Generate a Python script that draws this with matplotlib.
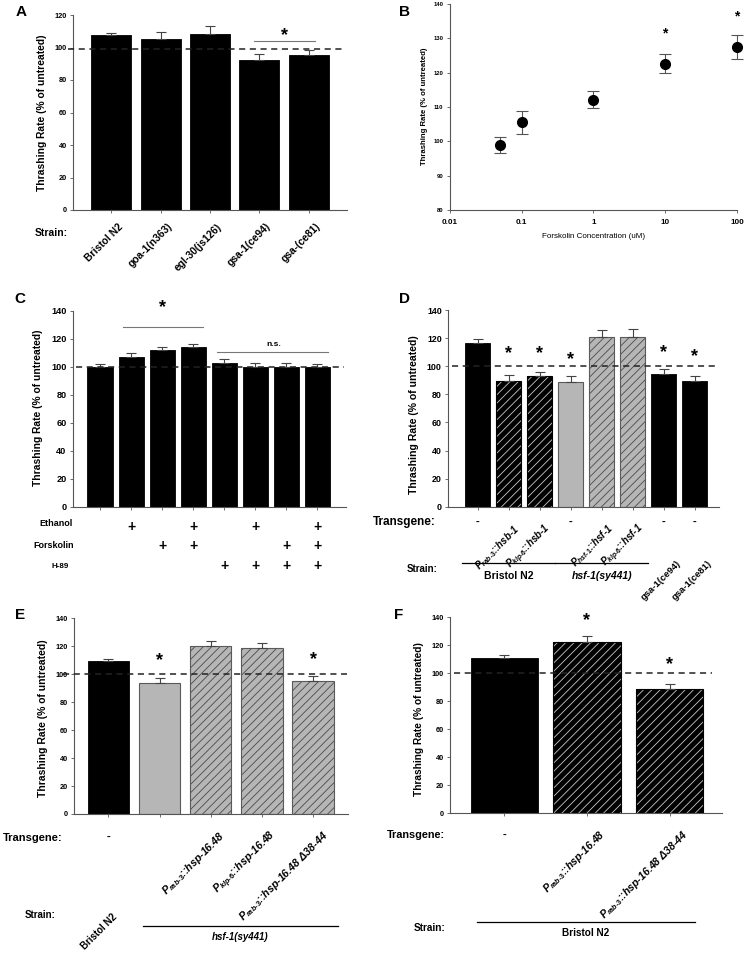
import matplotlib
matplotlib.use('Agg')
import matplotlib.pyplot as plt
import numpy as np
from matplotlib.transforms import blended_transform_factory

plt.rcParams['font.family'] = ['Liberation Sans', 'DejaVu Sans']
plt.rcParams['font.weight'] = 'bold'
plt.rcParams['mathtext.fontset'] = 'custom'
plt.rcParams['mathtext.it'] = 'Liberation Sans:italic:bold'
plt.rcParams['mathtext.rm'] = 'Liberation Sans:bold'
plt.rcParams['mathtext.bf'] = 'Liberation Sans:bold'
plt.rcParams['hatch.linewidth'] = 0.6

# ---- data ----
a_strains = ['Bristol N2', 'goa-1(n363)', 'egl-30(js126)', 'gsa-1(ce94)', 'gsa-(ce81)']
a_rate = [107.7, 105.3, 108.5, 92.6, 95.2]
a_err = [1.3, 4.1, 4.5, 3.7, 3.1]

b_conc = [0.05, 0.1, 1, 10, 100]
b_rate = [99.0, 105.5, 112.1, 122.6, 127.6]
b_err = [2.3, 3.3, 2.5, 2.7, 3.5]
b_ticks = ['0.01', '0.1', '1', '10', '100']

c_rate = [100, 106.9, 112.1, 114.3, 102.9, 100, 100, 100]
c_err = [1.9, 2.6, 1.9, 2.1, 2.6, 2.4, 2.4, 1.7]
c_ethanol = [0, 1, 0, 1, 0, 1, 0, 1]
c_forskolin = [0, 0, 1, 1, 0, 0, 1, 1]
c_h89 = [0, 0, 0, 0, 1, 1, 1, 1]

d_transgene = ['-', r'$P_{rab‐3}$::hsb-1', r'$P_{klp‐6}$::hsb-1', '-',
               r'$P_{hsf‐1}$::hsf-1', r'$P_{klp‐6}$::hsf-1', '-', '-']
d_rate = [116.3, 89.5, 92.8, 89.0, 121.0, 121.0, 94.4, 89.5]
d_err = [2.8, 4.2, 3.3, 4.0, 4.8, 5.2, 3.4, 3.5]
d_style = ['k', 'kh', 'kh', 'g', 'gh', 'gh', 'k', 'k']
d_sig_idx = [1, 2, 3, 6, 7]
d_sig_y = [109, 109, 105, 110, 107]

e_transgene = ['-', '', r'$P_{rab‐3}$::hsp-16.48', r'$P_{klp‐6}$::hsp-16.48',
               r'$P_{rab‐3}$::hsp-16.48 Δ38-44']
e_rate = [109.5, 94.0, 120.5, 118.8, 95.2]
e_err = [1.5, 3.0, 3.4, 3.3, 3.6]
e_style = ['k', 'g', 'gh', 'gh', 'gh']
e_sig_idx = [1, 4]
e_sig_y = [109.5, 110.5]

f_transgene = ['-', r'$P_{rab‐3}$::hsp-16.48', r'$P_{rab‐3}$::hsp-16.48 Δ38-44']
f_rate = [111.2, 122.1, 88.8]
f_err = [1.8, 4.6, 3.3]
f_style = ['k', 'kh', 'kh']
f_sig_idx = [1, 2]
f_sig_y = [137.6, 106]

W, H = 745, 956
fig = plt.figure(figsize=(W / 100, H / 100), dpi=100)
SP = '#555555'
YLAB = 'Thrashing Rate (% of untreated)'


def fx(px):
    return px / W


def fy(py):
    return 1 - py / H


def panel(l, t, r, b, fs):
    ax = fig.add_axes([l / W, 1 - b / H, (r - l) / W, (b - t) / H])
    for s in ['top', 'right']:
        ax.spines[s].set_visible(False)
    for s in ['left', 'bottom']:
        ax.spines[s].set_color(SP)
        ax.spines[s].set_linewidth(0.8)
    ax.tick_params(direction='out', length=2.5, width=0.6, color=SP,
                   labelsize=fs, pad=2)
    return ax


def bars(ax, rate, err, style):
    x = np.arange(len(rate))
    for i, (v, s) in enumerate(zip(rate, style)):
        if s == 'k':
            ax.bar(i, v, 0.81, color='black', edgecolor='black', lw=0.6, zorder=2)
        elif s == 'g':
            ax.bar(i, v, 0.81, color='#b6b6b6', edgecolor='#5a5a5a', lw=0.8, zorder=2)
        elif s == 'kh':
            ax.bar(i, v, 0.81, color='black', edgecolor='#c8c8c8', hatch='////', lw=0, zorder=2)
            ax.bar(i, v, 0.81, fill=False, edgecolor='black', lw=0.8, zorder=2)
        elif s == 'gh':
            ax.bar(i, v, 0.81, color='#b6b6b6', edgecolor='#4a4a4a', hatch='////', lw=0, zorder=2)
            ax.bar(i, v, 0.81, fill=False, edgecolor='#5a5a5a', lw=0.8, zorder=2)
    ax.errorbar(x, rate, yerr=[np.zeros(len(err)), err], fmt='none', ecolor='#444444',
                elinewidth=0.8, capsize=3.5, capthick=0.8, zorder=3)
    ax.set_xticks(x)
    ax.set_xticklabels([])


def dashed(ax, x0, x1, y=100):
    ax.plot([x0, x1], [y, y], color='#222222', lw=1.1, dashes=(4, 3), clip_on=False, zorder=4)


def star(ax, x, y, fs=13):
    ax.text(x, y, '*', ha='center', va='center', fontsize=fs, fontweight='bold', clip_on=False)


# ---------------- A ----------------
axA = panel(73, 15, 347, 210, 5.3)
bars(axA, a_rate, a_err, ['k'] * 5)
axA.set_xlim(-0.77, 4.77)
axA.set_ylim(0, 120)
axA.set_yticks(range(0, 121, 20))
dashed(axA, -0.87, 4.69, 99.3)
axA.plot([2.89, 4.12], [104, 104], color='#777777', lw=0.8)
star(axA, 3.5, 107.5)
btA = blended_transform_factory(axA.transData, fig.transFigure)
for i, s in enumerate(a_strains):
    axA.text(i + 0.2, fy(225), s, transform=btA, rotation=45, rotation_mode='anchor',
             ha='right', va='center', fontsize=7.4)
fig.text(fx(35), fy(233), 'Strain:', ha='left', va='center', fontsize=7.5)
fig.text(fx(42), fy(112.5), YLAB, rotation=90, ha='center', va='center', fontsize=7.4)
fig.text(fx(21.5), fy(12), 'A', ha='center', va='center', fontsize=11)

# ---------------- B ----------------
axB = panel(449.7, 4, 737, 210, 4.2)
axB.set_xscale('log')
axB.set_xlim(0.01, 100)
axB.set_ylim(80, 140)
axB.set_yticks(range(80, 141, 10))
axB.set_xticks([0.01, 0.1, 1, 10, 100])
axB.set_xticklabels(b_ticks)
axB.minorticks_off()
axB.tick_params(axis='x', labelsize=5.8, pad=4)
axB.errorbar(b_conc, b_rate, yerr=b_err, fmt='o', color='black', ms=7, ecolor='#555555',
             elinewidth=0.8, capsize=4, capthick=0.8, clip_on=False, zorder=3)
star(axB, 10, 131.5, 10)
star(axB, 100, 136.5, 10)
axB.set_xlabel('Forskolin Concentration (uM)', fontsize=5.8, labelpad=5)
fig.text(fx(424.7), fy(106.7), YLAB, rotation=90, ha='center', va='center', fontsize=5.6)
fig.text(fx(404), fy(12), 'B', ha='center', va='center', fontsize=11)

# ---------------- C ----------------
axC = panel(72.7, 310.7, 346, 506.7, 6.6)
bars(axC, c_rate, c_err, ['k'] * 8)
axC.set_xlim(-0.88, 7.92)
axC.set_ylim(0, 140)
axC.set_yticks(range(0, 141, 20))
dashed(axC, -0.77, 7.84)
axC.plot([0.73, 3.3], [128, 128], color='#777777', lw=0.8)
star(axC, 2.0, 142.5)
axC.plot([3.76, 7.35], [110.7, 110.7], color='#777777', lw=0.8)
axC.text(5.6, 115.5, 'n.s.', ha='center', va='center', fontsize=6)
btC = blended_transform_factory(axC.transData, fig.transFigure)
for row, ypx in [(c_ethanol, 527), (c_forskolin, 546), (c_h89, 566)]:
    for i, on in enumerate(row):
        if on:
            axC.text(i, fy(ypx), '+', transform=btC, ha='center', va='center', fontsize=10)
fig.text(fx(56), fy(524), 'Ethanol', ha='center', va='center', fontsize=6.5)
fig.text(fx(53.7), fy(546), 'Forskolin', ha='center', va='center', fontsize=6.5)
fig.text(fx(60.5), fy(566), 'H-89', ha='center', va='center', fontsize=5.8)
fig.text(fx(37.7), fy(407.5), YLAB, rotation=90, ha='center', va='center', fontsize=7.4)
fig.text(fx(20), fy(299), 'C', ha='center', va='center', fontsize=11)

# ---------------- D ----------------
axD = panel(448, 310, 718.7, 506.7, 6.4)
bars(axD, d_rate, d_err, d_style)
axD.set_xlim(-0.96, 7.77)
axD.set_ylim(0, 140)
axD.set_yticks(range(0, 141, 20))
dashed(axD, -0.83, 7.75)
for i, y in zip(d_sig_idx, d_sig_y):
    star(axD, i, y)
btD = blended_transform_factory(axD.transData, fig.transFigure)
for i, s in enumerate(d_transgene):
    if s == '-':
        axD.text(i, fy(521.7), '-', transform=btD, ha='center', va='center', fontsize=8)
    else:
        axD.text(i + 0.3, fy(527), s, transform=btD, rotation=45, rotation_mode='anchor',
                 ha='right', va='center', fontsize=7, fontstyle='italic')
for i, s in [(6, 'gsa-1(ce94)'), (7, 'gsa-1(ce81)')]:
    axD.text(i + 0.5, fy(562), s, transform=btD, rotation=45, rotation_mode='anchor',
             ha='right', va='center', fontsize=6.8)
axD.plot([-0.5, 2.5], [fy(563.3)] * 2, transform=btD, color='black', lw=0.9, clip_on=False)
axD.plot([2.5, 5.5], [fy(563.3)] * 2, transform=btD, color='black', lw=0.9, clip_on=False)
axD.text(1.0, fy(576), 'Bristol N2', transform=btD, ha='center', va='center', fontsize=7.5)
axD.text(4.0, fy(576), 'hsf-1(sy441)', transform=btD, ha='center', va='center',
         fontsize=7.5, fontstyle='italic')
fig.text(fx(373), fy(521.7), 'Transgene:', ha='left', va='center', fontsize=8.5)
fig.text(fx(407), fy(569), 'Strain:', ha='left', va='center', fontsize=7)
fig.text(fx(414.3), fy(415), YLAB, rotation=90, ha='center', va='center', fontsize=7.6)
fig.text(fx(404), fy(299), 'D', ha='center', va='center', fontsize=11)

# ---------------- E ----------------
axE = panel(74, 618.3, 348, 814, 5.3)
bars(axE, e_rate, e_err, e_style)
axE.set_xlim(-0.67, 4.68)
axE.set_ylim(0, 140)
axE.set_yticks(range(0, 141, 20))
dashed(axE, -0.88, 4.67)
for i, y in zip(e_sig_idx, e_sig_y):
    star(axE, i, y)
btE = blended_transform_factory(axE.transData, fig.transFigure)
for i, s in enumerate(e_transgene):
    if s == '-':
        axE.text(i, fy(837), '-', transform=btE, ha='center', va='center', fontsize=8)
    elif s:
        axE.text(i + 0.25, fy(834), s, transform=btE, rotation=45, rotation_mode='anchor',
                 ha='right', va='center', fontsize=7.7, fontstyle='italic')
axE.text(0.14, fy(915), 'Bristol N2', transform=btE, rotation=45, rotation_mode='anchor',
         ha='right', va='center', fontsize=7)
axE.plot([0.68, 4.49], [fy(926)] * 2, transform=btE, color='black', lw=0.9, clip_on=False)
axE.text(2.57, fy(937), 'hsf-1(sy441)', transform=btE, ha='center', va='center',
         fontsize=7, fontstyle='italic')
fig.text(fx(3), fy(838), 'Transgene:', ha='left', va='center', fontsize=8)
fig.text(fx(25), fy(915), 'Strain:', ha='left', va='center', fontsize=7)
fig.text(fx(43.3), fy(718.3), YLAB, rotation=90, ha='center', va='center', fontsize=7.5)
fig.text(fx(20.5), fy(615), 'E', ha='center', va='center', fontsize=11)

# ---------------- F ----------------
axF = panel(450.3, 617.3, 722, 813.3, 5.3)
bars(axF, f_rate, f_err, f_style)
axF.set_xlim(-0.65, 2.63)
axF.set_ylim(0, 140)
axF.set_yticks(range(0, 141, 20))
dashed(axF, -0.61, 2.51)
for i, y in zip(f_sig_idx, f_sig_y):
    star(axF, i, y)
btF = blended_transform_factory(axF.transData, fig.transFigure)
for i, s in enumerate(f_transgene):
    if s == '-':
        axF.text(i, fy(835), '-', transform=btF, ha='center', va='center', fontsize=8)
    else:
        axF.text(i + 0.2, fy(833), s, transform=btF, rotation=45, rotation_mode='anchor',
                 ha='right', va='center', fontsize=7.6, fontstyle='italic')
axF.plot([-0.33, 2.3], [fy(922)] * 2, transform=btF, color='black', lw=0.9, clip_on=False)
axF.text(0.98, fy(933), 'Bristol N2', transform=btF, ha='center', va='center', fontsize=7.2)
fig.text(fx(387), fy(835), 'Transgene:', ha='left', va='center', fontsize=7.8)
fig.text(fx(413.7), fy(928), 'Strain:', ha='left', va='center', fontsize=7.2)
fig.text(fx(419.3), fy(719), YLAB, rotation=90, ha='center', va='center', fontsize=7.3)
fig.text(fx(398.7), fy(615), 'F', ha='center', va='center', fontsize=11)

fig.savefig('out.png', dpi=100)
